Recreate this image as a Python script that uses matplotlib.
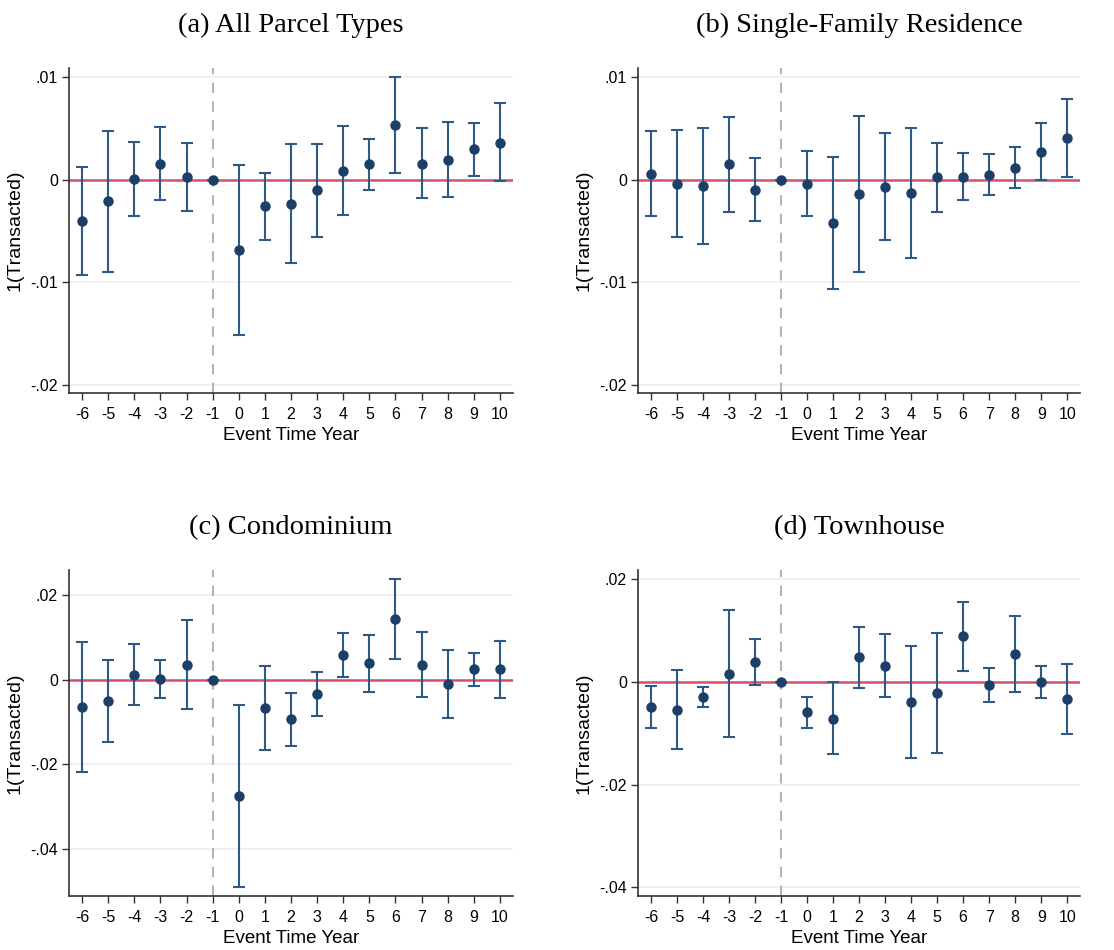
import numpy as np
import matplotlib.pyplot as plt

plt.rcParams['font.family'] = ['Liberation Sans', 'DejaVu Sans']
plt.rcParams['axes.unicode_minus'] = False

event_years = [-6, -5, -4, -3, -2, -1, 0, 1, 2, 3, 4, 5, 6, 7, 8, 9, 10]

# (a) All Parcel Types
coef_a = [-0.00403, -0.00211, 0.0001, 0.00156, 0.00026, 0.0, -0.00686, -0.00257, -0.00231,
          -0.00101, 0.00091, 0.00153, 0.00537, 0.00159, 0.00198, 0.00296, 0.00364]
lo_a = [-0.00924, -0.00898, -0.00351, -0.00198, -0.00306, 0.0, -0.01515, -0.00585, -0.0081,
        -0.00556, -0.00341, -0.00098, 0.00068, -0.00179, -0.00163, 0.00039, -0.00016]
hi_a = [0.00124, 0.00475, 0.00371, 0.00514, 0.00361, 0.0, 0.00146, 0.00065, 0.00351,
        0.00354, 0.00524, 0.00403, 0.01008, 0.00504, 0.00563, 0.00559, 0.00748]

# (b) Single-Family Residence
coef_b = [0.00058, -0.00036, -0.00058, 0.00153, -0.00097, 0.0, -0.00039, -0.00425, -0.00143,
          -0.00068, -0.0013, 0.00023, 0.00032, 0.00052, 0.0012, 0.00276, 0.00409]
lo_b = [-0.00357, -0.00558, -0.00623, -0.00312, -0.00403, 0.0, -0.00357, -0.01068, -0.00903,
        -0.00584, -0.00763, -0.00312, -0.00201, -0.00149, -0.00075, -0.00003, 0.00026]
hi_b = [0.00474, 0.0049, 0.00506, 0.00617, 0.00211, 0.0, 0.00286, 0.00224, 0.00623,
        0.00455, 0.00506, 0.0036, 0.00266, 0.00256, 0.00318, 0.00558, 0.00789]

# (c) Condominium
coef_c = [-0.0066, -0.00503, 0.00118, 0.00016, 0.00354, 0.0, -0.0276, -0.00668, -0.00936,
          -0.00338, 0.0059, 0.00378, 0.01431, 0.00346, -0.00102, 0.00244, 0.00244]
lo_c = [-0.02194, -0.01463, -0.00606, -0.00441, -0.00692, 0.0, -0.049, -0.01652, -0.01565,
        -0.00857, 0.00071, -0.00299, 0.00495, -0.00401, -0.00897, -0.00142, -0.00425]
hi_c = [0.00889, 0.00472, 0.00849, 0.00472, 0.01408, 0.0, -0.00613, 0.0033, -0.00307,
        0.00189, 0.01109, 0.01054, 0.02375, 0.01117, 0.00692, 0.00621, 0.0092]

# (d) Townhouse
coef_d = [-0.00487, -0.00551, -0.00292, 0.00156, 0.00383, 0.0, -0.00597, -0.0072, 0.00474,
          0.00305, -0.00396, -0.00227, 0.00882, -0.00071, 0.00532, -0.00006, -0.00337]
lo_d = [-0.00895, -0.0131, -0.00493, -0.01083, -0.00058, 0.0, -0.00895, -0.01414, -0.00117,
        -0.00292, -0.01479, -0.01395, 0.00214, -0.00402, -0.00208, -0.00318, -0.01025]
hi_d = [-0.00084, 0.0022, -0.00097, 0.01401, 0.00824, 0.0, -0.00298, -0.00013, 0.0107,
        0.00921, 0.00701, 0.00954, 0.01557, 0.00259, 0.01271, 0.00305, 0.0035]

titles = ['(a) All Parcel Types', '(b) Single-Family Residence', '(c) Condominium', '(d) Townhouse']
yticks_ab = [-0.02, -0.01, 0, 0.01]
ylabels_ab = ['-.02', '-.01', '0', '.01']
yticks_cd = [-0.04, -0.02, 0, 0.02]
ylabels_cd = ['-.04', '-.02', '0', '.02']

panels = [
    (coef_a, lo_a, hi_a, (-0.0208, 0.0109), yticks_ab, ylabels_ab, [0.062, 0.5863, 0.3985, 0.342]),
    (coef_b, lo_b, hi_b, (-0.0208, 0.0109), yticks_ab, ylabels_ab, [0.5727, 0.5863, 0.397, 0.342]),
    (coef_c, lo_c, hi_c, (-0.0511, 0.0258), yticks_cd, ylabels_cd, [0.062, 0.0568, 0.3985, 0.343]),
    (coef_d, lo_d, hi_d, (-0.0417, 0.0217), yticks_cd, ylabels_cd, [0.5727, 0.0568, 0.397, 0.343]),
]

fig = plt.figure(figsize=(11.14, 9.5), dpi=100)

for (coef, lo, hi, ylim, yt, ytl, pos), title in zip(panels, titles):
    ax = fig.add_axes(pos)
    x = np.array(event_years)
    coef = np.array(coef)
    err = [coef - np.array(lo), np.array(hi) - coef]
    for y in yt:
        ax.axhline(y, color='#eaf0f3', lw=1.2, zorder=0)
    ax.axhline(0, color='#d4506e', lw=1.8, zorder=1)
    ax.axvline(-1, color='#b5b5b5', lw=1.5, ls=(0, (5, 4)), zorder=1)
    ax.errorbar(x, coef, yerr=err, fmt='o', color='#1b3f66', ecolor='#2f5a86',
                elinewidth=1.5, capsize=4.5, capthick=1.5, markersize=6.5, zorder=3)
    ax.set_xlim(-6.5, 10.5)
    ax.set_ylim(*ylim)
    ax.set_xticks(event_years)
    ax.set_yticks(yt)
    ax.set_yticklabels(ytl)
    ax.tick_params(labelsize=11.5, direction='out', length=5, width=1, color='#333333', pad=3)
    ax.tick_params(axis='x', pad=5)
    for s in ['top', 'right']:
        ax.spines[s].set_visible(False)
    for s in ['left', 'bottom']:
        ax.spines[s].set_color('#333333')
        ax.spines[s].set_linewidth(1.2)
    ax.set_xlabel('Event Time Year', fontsize=13.5, labelpad=4)
    ax.set_ylabel('1(Transacted)', fontsize=14)
    ax.yaxis.set_label_coords(-0.102, 0.5)
    ax.set_title(title, family=['Liberation Serif', 'DejaVu Serif'], fontsize=20.5, pad=26)

fig.savefig('out.png', dpi=100)
